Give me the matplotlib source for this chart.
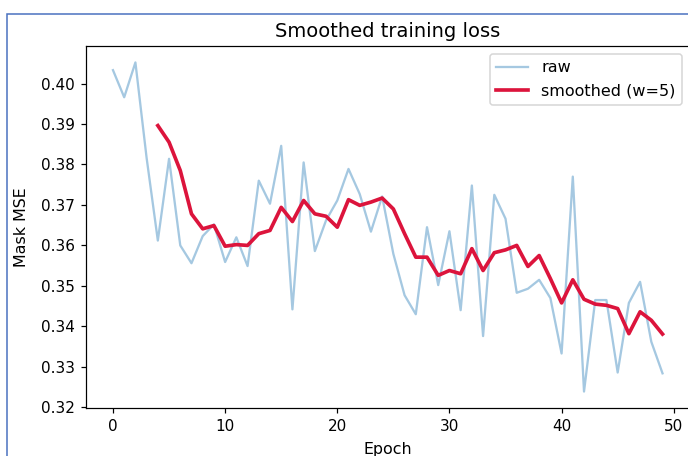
import matplotlib
matplotlib.use("Agg")
import matplotlib.pyplot as plt
from matplotlib.patches import Rectangle

# --------------------------
# DATA
# --------------------------
epochs = list(range(50))
raw_loss = [
    0.4033, 0.3966, 0.4052, 0.3816, 0.3612, 0.3814, 0.3600, 0.3556, 0.3623, 0.3652,
    0.3559, 0.3620, 0.3549, 0.3760, 0.3703, 0.3846, 0.3442, 0.3805, 0.3586, 0.3662,
    0.3711, 0.3789, 0.3727, 0.3634, 0.3721, 0.3579, 0.3477, 0.3430, 0.3645, 0.3502,
    0.3635, 0.3440, 0.3748, 0.3376, 0.3725, 0.3666, 0.3483, 0.3493, 0.3515, 0.3470,
    0.3333, 0.3770, 0.3239, 0.3465, 0.3465, 0.3286, 0.3458, 0.3510, 0.3362, 0.3284,
]
smooth_epochs = list(range(4, 50))
smooth_loss = [
    0.3896, 0.3855, 0.3785, 0.3678, 0.3641, 0.3649,
    0.3598, 0.3602, 0.3600, 0.3629, 0.3637, 0.3694, 0.3659, 0.3711, 0.3678, 0.3672,
    0.3645, 0.3713, 0.3699, 0.3707, 0.3717, 0.3690, 0.3629, 0.3571, 0.3571, 0.3526,
    0.3538, 0.3530, 0.3592, 0.3538, 0.3582, 0.3589, 0.3600, 0.3548, 0.3575, 0.3518,
    0.3458, 0.3515, 0.3467, 0.3455, 0.3452, 0.3444, 0.3382, 0.3436, 0.3415, 0.3381,
]

# --------------------------
# FIGURE
# --------------------------
W, H, DPI = 688, 456, 110
fig = plt.figure(figsize=(W / DPI, H / DPI), dpi=DPI)

# axes placed in pixel terms (right side runs past the crop)
left, right, top, bottom = 85.5, 690, 46, 408
ax = fig.add_axes([left / W, (H - bottom) / H, (right - left) / W, (bottom - top) / H])

ax.plot(epochs, raw_loss, color="tab:blue", alpha=0.4, lw=1.5, label="raw")
ax.plot(smooth_epochs, smooth_loss, color="crimson", lw=2.4, label="smoothed (w=5)")

ax.set_title("Smoothed training loss", fontsize=12.8)
ax.set_xlabel("Epoch", fontsize=10.4, labelpad=5.5)
ax.set_ylabel("Mask MSE", fontsize=10.4, labelpad=8)
ax.legend(loc="upper right", fontsize=10.5)

# blue frame around the screenshot
fig.patches.append(Rectangle((7 / W, -0.2), 2, (H - 14) / H + 0.2,
                             transform=fig.transFigure, fill=False,
                             edgecolor="#4a72c0", lw=1.0, zorder=0))

fig.savefig("out.png", dpi=DPI)
